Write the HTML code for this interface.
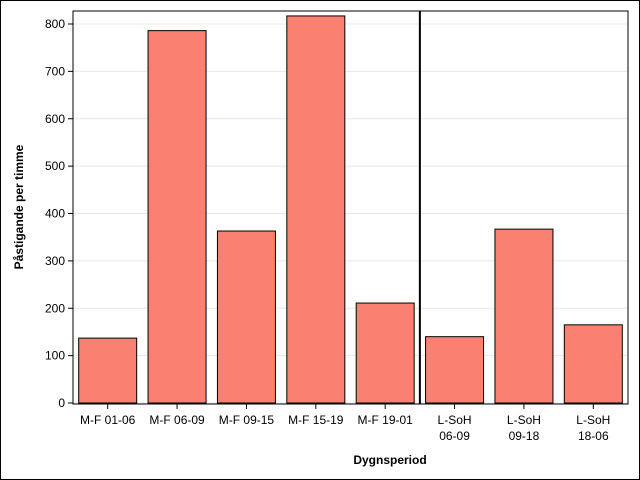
<!DOCTYPE html>
<html><head><meta charset="utf-8"><style>
body{margin:0;background:#fff}
svg{display:block;font-family:"Liberation Sans",sans-serif}
</style></head><body>
<svg id="chart" width="640" height="480">
<rect x="0.5" y="0.5" width="639" height="479" fill="#fff" stroke="#000"/>
<g id="grid"></g><g id="bars"></g><g id="axes"></g>
<text x="390" y="464" text-anchor="middle" font-size="12" font-weight="bold">Dygnsperiod</text>
<text transform="translate(23,207) rotate(-90)" text-anchor="middle" font-size="12" font-weight="bold">Påstigande per timme</text>
</svg>
<script>
const categories=[["M-F 01-06"],["M-F 06-09"],["M-F 09-15"],["M-F 15-19"],["M-F 19-01"],["L-SoH","06-09"],["L-SoH","09-18"],["L-SoH","18-06"]];
const values=[137,786,363,817,211,140,367,165];
const yTicks=[0,100,200,300,400,500,600,700,800];
const L=73,R=628,T=11,B=404;
const y=v=>403-v*(379/800);
const step=(R-L)/categories.length;
const x=i=>L+step*(i+0.5);
const ns="http://www.w3.org/2000/svg";
function mk(t,a,p){const e=document.createElementNS(ns,t);for(const k in a)e.setAttribute(k,a[k]);p.appendChild(e);return e;}
const grid=document.getElementById('grid'),bars=document.getElementById('bars'),axes=document.getElementById('axes');
yTicks.forEach(v=>{
 const g=mk('line',{x1:L,x2:R,y1:y(v),y2:y(v),stroke:'#e8e8e8'},grid);
 
 
 const t=mk('line',{x1:L-5,x2:L,y1:y(v),y2:y(v),stroke:'#000'},axes);
 
 
 const l=mk('text',{x:L-8,y:y(v)+4,'text-anchor':'end','font-size':12},axes);
 l.textContent=v;
 
 
});
values.forEach((v,i)=>{
 const r=mk('rect',{x:x(i)-29,y:y(v),width:58,height:y(0)-y(v),fill:'#fa8072',stroke:'#000'},bars);
 
 
 const t=mk('line',{x1:x(i),x2:x(i),y1:B,y2:B+5,stroke:'#000'},axes);
 
 
 categories[i].forEach((s,j)=>{
  const l=mk('text',{x:x(i),y:B+20+j*16,'text-anchor':'middle','font-size':12},axes);
  l.textContent=s;
  
  
 });
});
const f=mk('rect',{x:L,y:T,width:R-L,height:B-T,fill:'none',stroke:'#000'},axes);


const d=mk('line',{x1:L+step*5,x2:L+step*5,y1:T,y2:B,stroke:'#000','stroke-width':2},axes);


</script>
</body></html>
